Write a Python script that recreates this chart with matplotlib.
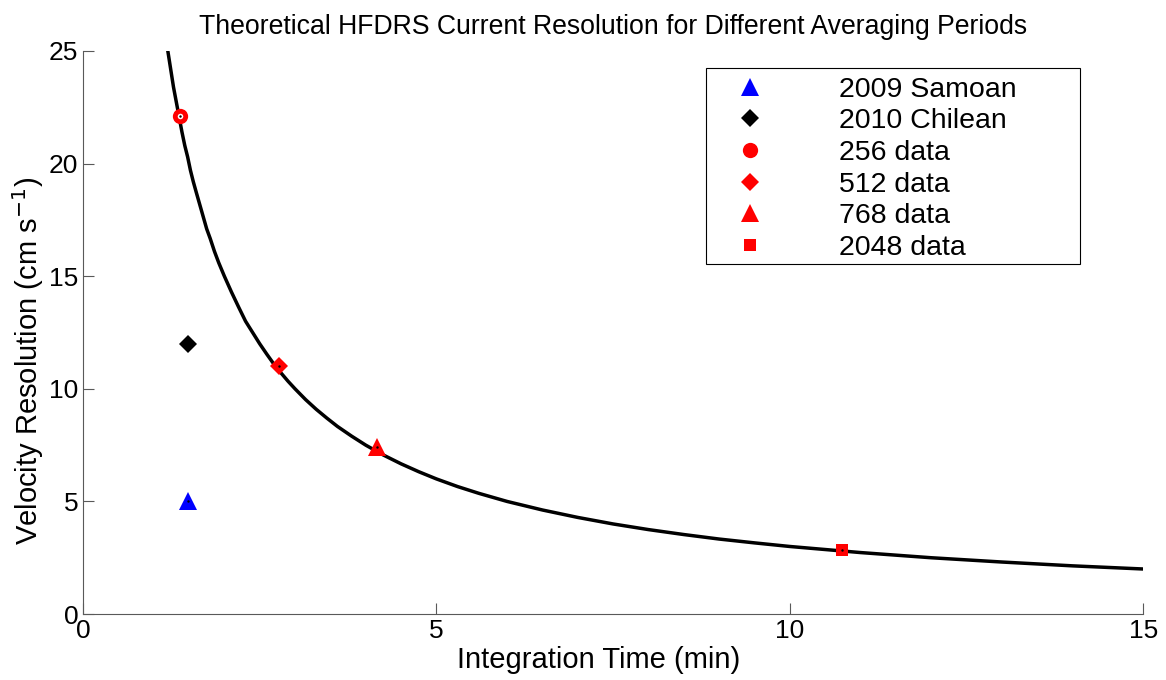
import matplotlib
matplotlib.use("Agg")
import matplotlib.pyplot as plt
from matplotlib.patches import Rectangle

plt.rcParams["font.family"] = ["Liberation Sans", "DejaVu Sans"]

# theoretical resolution curve (min, cm/s)
curve_t = [1.19, 1.22, 1.25, 1.28, 1.31, 1.34, 1.37, 1.40, 1.44, 1.48, 1.52, 1.56,
           1.60, 1.65, 1.70, 1.75, 1.80, 1.86, 1.92, 2.0, 2.1, 2.2, 2.3, 2.4, 2.5,
           2.6, 2.7, 2.8, 2.9, 3.0, 3.15, 3.3, 3.45, 3.6, 3.8, 4.0, 4.25, 4.5, 4.75,
           5.0, 5.3, 5.6, 6.0, 6.5, 7.0, 7.5, 8.0, 8.5, 9.0, 9.5, 10.0, 11.0, 12.0,
           13.0, 14.0, 15.0]
curve_v = [25.2, 24.6, 24.0, 23.4, 22.9, 22.4, 21.9, 21.4, 20.8, 20.3, 19.7, 19.2,
           18.75, 18.2, 17.65, 17.1, 16.67, 16.1, 15.6, 15.0, 14.3, 13.64, 13.0,
           12.5, 12.0, 11.54, 11.1, 10.71, 10.34, 10.0, 9.52, 9.09, 8.7, 8.33, 7.9,
           7.5, 7.06, 6.67, 6.32, 6.0, 5.66, 5.36, 5.0, 4.62, 4.29, 4.0, 3.75, 3.53,
           3.33, 3.16, 3.0, 2.73, 2.5, 2.31, 2.14, 2.0]

# observed points
labels = ["2009 Samoan", "2010 Chilean", "256 data", "512 data", "768 data", "2048 data"]
pt_t = [1.49, 1.49, 1.37, 2.77, 4.16, 10.74]
pt_v = [5.0, 12.0, 22.1, 11.0, 7.4, 2.85]
markers = ["^", "D", "o", "D", "^", "s"]
colors = ["#0000ff", "#000000", "#ff0000", "#ff0000", "#ff0000", "#ff0000"]
sizes = [13, 9, 11, 9, 13, 9]

fig = plt.figure(figsize=(11.66, 6.8), dpi=100)
ax = fig.add_axes([0.0712, 0.097, 0.9092, 0.828])

ax.plot(curve_t, curve_v, color="black", lw=2.5, zorder=2, solid_joinstyle="round")
for t, v, m, c, s, lab in zip(pt_t, pt_v, markers, colors, sizes, labels):
    ax.plot([t], [v], ls="none", marker=m, color=c, markersize=s,
            markeredgewidth=0, label=lab, zorder=3)
    if m == "o":
        # MATLAB-style open centre on the circle marker
        ax.plot([t], [v], ls="none", marker="o", color="white", markersize=4,
                markeredgewidth=0, zorder=4)
    ax.plot([t], [v], ls="none", marker=".", color="black", markersize=1.5, zorder=4)

ax.set_xlim(0, 15)
ax.set_ylim(0, 25)
ax.set_xticks([0, 5, 10, 15])
ax.set_yticks([0, 5, 10, 15, 20, 25])
ax.tick_params(direction="in", labelsize=19, length=8, width=0.8, color="0.35")
for side in ("top", "right"):
    ax.spines[side].set_visible(False)
for side in ("left", "bottom"):
    ax.spines[side].set_linewidth(0.8)
    ax.spines[side].set_color("0.35")

ax.set_xlabel("Integration Time (min)", fontsize=21)
ax.set_ylabel(r"Velocity Resolution (cm s$^{-1}$)", fontsize=21)
ax.xaxis.set_label_coords(0.486, -0.057)
ax.yaxis.set_label_coords(-0.035, 0.449)
ax.set_title("Theoretical HFDRS Current Resolution for Different Averaging Periods",
             fontsize=19.2, pad=12)

# legend frame drawn separately (MATLAB-style wide box)
ax.add_patch(Rectangle((0.5877, 0.6217), 0.3529, 0.3481, transform=ax.transAxes,
                       facecolor="white", edgecolor="black", lw=0.8, zorder=5))
leg = ax.legend(loc="upper left", bbox_to_anchor=(0.5811, 0.9698), fontsize=20.5,
                frameon=False, handlelength=3.0, handletextpad=1.6, borderpad=0.3,
                labelspacing=0.2, borderaxespad=0)
leg.set_zorder(6)

fig.savefig("out.png", dpi=100)
